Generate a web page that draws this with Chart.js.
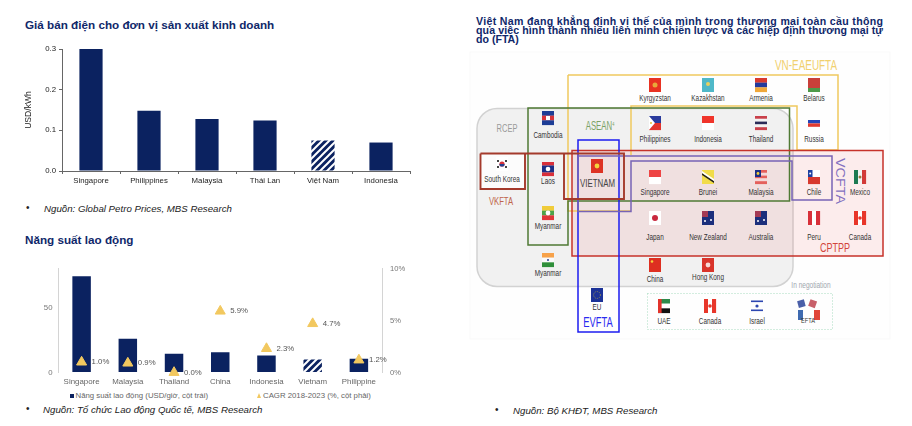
<!DOCTYPE html>
<html lang="vi">
<head>
<meta charset="utf-8">
<title>Giá bán điện và năng suất lao động</title>
<script src="https://cdn.jsdelivr.net/npm/chart.js@4"></script>
<style>
    html, body { margin: 0; padding: 0; background: #fff; }
    body { width: 912px; height: 426px; position: relative; overflow: hidden; font-family: "Liberation Sans", Arial, sans-serif; filter: blur(0.3px); }
    canvas { position: absolute; }
    svg { position: absolute; left: 0; top: 0; }
    .title { position: absolute; font-weight: bold; color: #10286a; font-size: 11.7px; white-space: nowrap; }
    .source { position: absolute; font-style: italic; color: #222; font-size: 9.7px; white-space: nowrap; }
    .bullet { position: absolute; color: #222; font-size: 10px; }
    .legend-text { position: absolute; top: 391px; font-size: 7.8px; color: #666; white-space: nowrap; }
    .legend-rect { position: absolute; left: 70px; top: 394px; width: 4px; height: 4px; background: #0b2260; }
    .legend-tri { position: absolute; left: 257px; top: 393px; width: 0; height: 0; border-left: 2.5px solid transparent; border-right: 2.5px solid transparent; border-bottom: 5px solid #f2c85f; }
</style>
</head>
<body>
<svg id="diagram" width="912" height="426" xmlns="http://www.w3.org/2000/svg"></svg>

<div class="title" style="left:25px;top:18px;">Giá bán điện cho đơn vị sản xuất kinh doanh</div>
<canvas id="priceChart" width="440" height="160" style="left:0;top:36px;"></canvas>
<div class="bullet" style="left:26px;top:202px;">•</div>
<div class="source" style="left:44px;top:203px;">Nguồn: Global Petro Prices, MBS Research</div>

<div class="title" style="left:25px;top:233px;">Năng suất lao động</div>
<canvas id="laborChart" width="440" height="131" style="left:0;top:256px;"></canvas>
<span class="legend-rect"></span><span class="legend-text" style="left:75.5px;" id="legendBar"></span>
<span class="legend-tri"></span><span class="legend-text" style="left:263px;" id="legendCagr"></span>
<div class="bullet" style="left:26px;top:403px;">•</div>
<div class="source" style="left:43px;top:404px;">Nguồn: Tổ chức Lao động Quốc tế, MBS Research</div>

<div class="bullet" style="left:495px;top:404px;">•</div>
<div class="source" style="left:513px;top:405px;">Nguồn: Bộ KHĐT, MBS Research</div>

<script>
// chart data
const priceCategories = ['Singapore', 'Philippines', 'Malaysia', 'Thái Lan', 'Việt Nam', 'Indonesia'];
const priceValues = [0.30, 0.148, 0.128, 0.124, 0.075, 0.07];
const priceTicks = [0, 0.1, 0.2, 0.3];

const laborCategories = ['Singapore', 'Malaysia', 'Thailand', 'China', 'Indonesia', 'Vietnam', 'Philippine'];
const laborValues = [74, 26, 14.5, 15.5, 13, 10, 10.5];
const cagrValues = [1.0, 0.9, 0.0, 5.9, 2.3, 4.7, 1.2];
const laborLeftTicks = [0, 50];
const laborRightTicks = [0, 5, 10];

const laborSeriesName = 'Năng suất lao động (USD/giờ, cột trái)';
const cagrSeriesName = 'CAGR 2018-2023 (%, cột phải)';

const NAVY = '#0b2260';
const YELLOW = '#f2c85f';

document.getElementById('legendBar').textContent = laborSeriesName;
document.getElementById('legendCagr').textContent = cagrSeriesName;

// diagonal stripes for the Vietnam bar
const makeHatch = () => {
    const tile = document.createElement('canvas');
    tile.width = 7;
    tile.height = 7;
    const c = tile.getContext('2d');
    c.fillStyle = NAVY;
    c.fillRect(0, 0, 7, 7);
    c.strokeStyle = '#ffffff';
    c.lineWidth = 2;
    [[-1, 1, 1, -1], [0, 7, 7, 0], [6, 8, 8, 6]].forEach(l => {
        c.beginPath();
        c.moveTo(l[0], l[1]);
        c.lineTo(l[2], l[3]);
        c.stroke();
    });
    return c.createPattern(tile, 'repeat');
};
const hatch = makeHatch();

new Chart(document.getElementById('priceChart').getContext('2d'), {
    type: 'bar',
    data: {
        labels: priceCategories,
        datasets: [{
            data: priceValues,
            backgroundColor: priceCategories.map(name => name === 'Việt Nam' ? hatch : NAVY),
            barPercentage: 0.4,
            categoryPercentage: 1
        }]
    },
    options: {
        responsive: false,
        animation: false,
        layout: { padding: { top: 13, right: 30, left: 23, bottom: 0 } },
        plugins: { legend: { display: false }, tooltip: { enabled: false } },
        scales: {
            x: {
                grid: { drawOnChartArea: false, tickLength: 3, color: '#666', offset: true },
                border: { color: '#666' },
                ticks: { color: '#222', font: { family: 'Liberation Sans', size: 7.8 }, padding: 2, maxRotation: 0 },
                afterFit: scale => { scale.height = 25; }
            },
            y: {
                min: 0,
                max: 0.3,
                afterBuildTicks: axis => { axis.ticks = priceTicks.map(v => ({ value: v })); },
                grid: { drawOnChartArea: false, tickLength: 3, color: '#666' },
                border: { color: '#666' },
                title: { display: true, text: 'USD/kWh', color: '#222', font: { family: 'Liberation Sans', size: 8.6 }, padding: 0 },
                ticks: { color: '#222', font: { family: 'Liberation Sans', size: 7.8 }, padding: 3, callback: v => v.toFixed(1) },
                afterFit: scale => { scale.width = 39; }
            }
        }
    }
});

// percentage text next to each triangle
const cagrLabels = {
    id: 'cagrLabels',
    afterDatasetsDraw(chart) {
        const ctx = chart.ctx;
        const points = chart.getDatasetMeta(1).data;
        ctx.save();
        ctx.fillStyle = '#555';
        ctx.font = '7.8px "Liberation Sans"';
        ctx.textBaseline = 'middle';
        points.forEach((pt, i) => {
            ctx.fillText(cagrValues[i].toFixed(1) + '%', pt.x + 10, pt.y);
        });
        ctx.restore();
    }
};

new Chart(document.getElementById('laborChart').getContext('2d'), {
    data: {
        labels: laborCategories,
        datasets: [
            {
                type: 'bar',
                label: laborSeriesName,
                data: laborValues,
                yAxisID: 'y',
                order: 2,
                backgroundColor: laborCategories.map(name => name === 'Vietnam' ? hatch : NAVY),
                barPercentage: 0.4,
                categoryPercentage: 1
            },
            {
                type: 'line',
                label: cagrSeriesName,
                data: cagrValues,
                yAxisID: 'y1',
                order: 1,
                showLine: false,
                clip: false,
                pointStyle: 'triangle',
                pointRadius: 5.8,
                backgroundColor: YELLOW,
                borderColor: YELLOW
            }
        ]
    },
    options: {
        responsive: false,
        animation: false,
        layout: { padding: { top: 10, right: 0, left: 0, bottom: 0 } },
        plugins: { tooltip: { enabled: false }, legend: { display: false } },
        scales: {
            x: {
                grid: { drawOnChartArea: false, drawTicks: false },
                border: { display: false },
                ticks: { color: '#666', font: { family: 'Liberation Sans', size: 7.9 }, padding: 5, maxRotation: 0 },
                afterFit: scale => { scale.height = 14.5; }
            },
            y: {
                position: 'left',
                min: 0,
                max: 80,
                afterBuildTicks: axis => { axis.ticks = laborLeftTicks.map(v => ({ value: v })); },
                grid: { drawOnChartArea: false, drawTicks: false },
                border: { color: '#d4d4d4' },
                ticks: { color: '#777', font: { family: 'Liberation Sans', size: 7.8 }, padding: 6 },
                afterFit: scale => { scale.width = 58.5; }
            },
            y1: {
                position: 'right',
                min: 0,
                max: 10,
                afterBuildTicks: axis => { axis.ticks = laborRightTicks.map(v => ({ value: v })); },
                grid: { drawOnChartArea: false, drawTicks: false },
                border: { color: '#d4d4d4' },
                ticks: { color: '#777', font: { family: 'Liberation Sans', size: 7.6 }, padding: 8, callback: v => v + '%' },
                afterFit: scale => { scale.width = 58; }
            }
        }
    },
    plugins: [cagrLabels]
});

// ---- trade agreement diagram on the right, plain svg ----
const H = (...c) => c.map((col, i) => `<rect y="${14 * i / c.length}" width="12" height="${14 / c.length + 0.1}" fill="${col}"/>`).join('');
const V = (...c) => c.map((col, i) => `<rect x="${12 * i / c.length}" width="${12 / c.length + 0.1}" height="14" fill="${col}"/>`).join('');
const dot = (x, y, r, col) => `<circle cx="${x}" cy="${y}" r="${r}" fill="${col}"/>`;
const box = (x, y, w, h, col) => `<rect x="${x}" y="${y}" width="${w}" height="${h}" fill="${col}"/>`;
const AUS = box(0, 0, 12, 14, '#1b2f7c') + box(0, 0, 6, 6, '#a33a55') + dot(9, 9, 1, '#fff') + dot(3, 10, 1, '#fff');
const CAN = V('#e8362a', '#fff', '#e8362a') + dot(6, 7, 1.8, '#e8362a');

const flags = {
    kg: box(0, 0, 12, 14, '#e83222') + dot(6, 7, 2.5, '#e8a93a'),
    kz: box(0, 0, 12, 14, '#4fb8c8') + dot(6, 6, 2, '#e8d060'),
    am: H('#d93a2e', '#233a9c', '#f0a83a'),
    by: box(0, 0, 12, 10, '#c9403a') + box(0, 10, 12, 4, '#4d9a4a'),
    ph: H('#2a3b9c', '#e2332b') + '<path d="M0,0 L6,7 L0,14 Z" fill="#fff"/>' + dot(2, 7, 1, '#e9c13a'),
    id: H('#f0342a', '#ffffff'),
    th: H('#c9404a', '#f3f3f3', '#2b2c58', '#f3f3f3', '#c9404a'),
    ru: box(0, 4, 12, 3.4, '#2444b8') + box(0, 7.4, 12, 3.4, '#e03a30'),
    kh: H('#1d3d96', '#d8343a', '#1d3d96') + box(4, 5, 4, 4, '#fff'),
    kr: box(0, 0, 12, 14, '#fff') + dot(6, 7, 2.6, '#d6313a') + '<path d="M3.4,7 a2.6,2.6 0 0 0 5.2,0 Z" fill="#24418f"/>' + box(1, 3, 2, 2, '#444') + box(9, 3, 2, 2, '#444') + box(1, 9, 2, 2, '#444') + box(9, 9, 2, 2, '#444'),
    la: H('#d9303a', '#1c2f86', '#1c2f86', '#d9303a') + dot(6, 7, 2.3, '#fff'),
    vn: box(0, 0, 12, 14, '#dd3224') + dot(6, 7, 2.4, '#f4d33c'),
    sg: H('#ee4444', '#ffffff'),
    bn: box(0, 0, 12, 14, '#f1dc4a') + '<path d="M0,3 L12,11 L12,13 L0,5 Z" fill="#222"/><path d="M0,1 L12,9 L12,11 L0,3 Z" fill="#fff"/>',
    my: H('#e4605c', '#f4d8d8', '#e4605c', '#f4d8d8', '#e4605c') + box(0, 0, 6, 7, '#1c2f86') + dot(3, 3.5, 1.4, '#f0cf3a'),
    cl: H('#ffffff', '#d8392e') + box(0, 0, 4.5, 7, '#1d3fa0') + dot(2.2, 3.5, 1, '#fff'),
    mx: V('#1d7a52', '#f3f3f3', '#d23a38') + dot(6, 7, 1.5, '#99763a'),
    jp: box(0, 0, 12, 14, '#fff') + dot(6, 7, 3, '#c9283e'),
    nz: AUS,
    au: AUS,
    pe: V('#d8303a', '#fff', '#d8303a'),
    ca: CAN,
    mm: H('#f0cc3a', '#4da24a', '#e0353a') + dot(6, 7, 2.4, '#fff'),
    in: H('#f7a24a', '#fafafa', '#2f8f3a') + dot(6, 7, 1, '#2b3f95'),
    cn: box(0, 0, 12, 14, '#de2f20') + dot(3, 3.5, 1.3, '#f4d33c'),
    hk: box(0, 0, 12, 14, '#d9342a') + dot(6, 7, 2.4, '#f7d9d5'),
    eu: box(0, 0, 12, 14, '#1c3398') + '<circle cx="6" cy="7" r="3.4" fill="none" stroke="#c9b83a" stroke-width="0.7" stroke-dasharray="1 1.2"/>',
    ae: H('#2c8a4a', '#ffffff', '#111111') + box(0, 0, 3.6, 14, '#e2332b'),
    il: box(0, 1.5, 12, 1.6, '#2c46b0') + box(0, 10.5, 12, 1.6, '#2c46b0') + dot(6, 7, 1.6, '#2c46b0')
};

// name, flag key, centre x, flag top, label baseline
const countries = [
    ['Kyrgyzstan', 'kg', 655, 78, 101], ['Kazakhstan', 'kz', 708, 78, 101], ['Armenia', 'am', 761, 78, 101], ['Belarus', 'by', 814, 78, 101],
    ['Philippines', 'ph', 655, 116, 142], ['Indonesia', 'id', 708, 116, 142], ['Thailand', 'th', 761, 116, 142], ['Russia', 'ru', 814, 116, 142],
    ['Cambodia', 'kh', 548, 111, 138],
    ['South Korea', 'kr', 502, 157, 182], ['Laos', 'la', 548, 162, 184],
    ['Singapore', 'sg', 655, 170, 195], ['Brunei', 'bn', 708, 170, 195], ['Malaysia', 'my', 761, 170, 195], ['Chile', 'cl', 814, 170, 195], ['Mexico', 'mx', 860, 170, 195],
    ['Japan', 'jp', 655, 211, 240], ['New Zealand', 'nz', 708, 211, 240], ['Australia', 'au', 761, 211, 240], ['Peru', 'pe', 814, 211, 240], ['Canada', 'ca', 860, 211, 240],
    ['Myanmar', 'mm', 548, 206, 229], ['Myanmar', 'in', 548, 253, 276],
    ['China', 'cn', 655, 258, 282], ['Hong Kong', 'hk', 708, 258, 280],
    ['EU', 'eu', 597, 288, 310],
    ['UAE', 'ae', 664, 299, 324], ['Canada', 'ca', 710, 299, 324], ['Israel', 'il', 757, 299, 324]
];

// the diagram lettering is a condensed face, so squeeze Liberation Sans sideways
const label = (text, x, y, size, col, sx = 0.72) =>
    `<text transform="translate(${x},${y}) scale(${sx},1)" font-family="Liberation Sans" font-size="${size}" fill="${col}" text-anchor="middle">${text}</text>`;
const outline = (d, col, w = 1.5) => `<path d="${d}" fill="none" stroke="${col}" stroke-width="${w}"/>`;

let svg = '';
// article heading, stretched to the column like the justified original
svg += `<g font-family="Liberation Sans" font-weight="bold" font-size="10.6" fill="#10286a">
    <text x="476" y="25" textLength="407" lengthAdjust="spacing">Việt Nam đang khẳng định vị thế của mình trong thương mại toàn cầu thông</text>
    <text x="476" y="34" textLength="407" lengthAdjust="spacing">qua việc hình thành nhiều liên minh chiến lược và các hiệp định thương mại tự</text>
    <text x="476" y="43">do (FTA)</text></g>`;

svg += '<rect x="470" y="52" width="420" height="287" fill="#fefefe" stroke="#f9f9f9"/>';
svg += '<rect x="477" y="108.5" width="316" height="178" rx="20" fill="#f1f1f1" stroke="#d2d2d2" stroke-width="1.5"/>';
svg += '<rect x="572" y="150.5" width="311" height="105.5" fill="#f04a4a" fill-opacity="0.1"/>';
svg += '<rect x="480.5" y="153.5" width="44" height="35.5" fill="#fff" fill-opacity="0.75"/>';
svg += outline('M568,75 H838 V150 H797 V106 H631 V155 M568,75 V211 H631', '#efc95f');
svg += outline('M528,108 H789.5 V201 H568 V245 H528 Z', '#4f7a34');
svg += outline('M572,150.5 H883 V256 H572 Z', '#c6322a');
svg += outline('M578,140 H619 V332 H578 Z', '#1c1cf0');
svg += outline('M578,156 H832 V200 H792 V161 H631 V211.5 H578 Z', '#7763b5');
svg += outline('M480.5,153.5 H624 V199 H564 V153.5 M525,153.5 V189 H480.5 V153.5', '#a43a2c', 1.9);
svg += '<rect x="647.5" y="293.5" width="185" height="36" fill="none" stroke="#a9dcc0" stroke-dasharray="1 2"/>';

countries.forEach(([name, key, cx, top, base]) => {
    svg += `<g transform="translate(${cx - 6},${top})">${flags[key]}</g>`;
    svg += label(name, cx, base, 8.4, '#333', 0.76);
});
svg += `<g transform="translate(591,159)">${flags.vn}</g>`;
svg += label('VIETNAM', 597.5, 187, 11.6, '#444', 0.68);

// EFTA cluster
svg += `<g transform="translate(798,300)"><rect x="0" y="0" width="7" height="7" fill="#4a5fa8" transform="rotate(-15 4 4)"/><rect x="11" y="0" width="7" height="7" fill="#c8606a" transform="rotate(20 14 4)"/><rect x="0" y="10" width="5" height="10" fill="#3e6ab0"/><rect x="16" y="10" width="6" height="10" fill="#e0453a"/></g>`;
svg += label('EFTA', 808, 323, 7, '#333', 0.8);

svg += label('RCEP', 507, 132, 11, '#9a9a9a', 0.68);
svg += label('ASEAN<tspan font-size="6" dy="-4">4</tspan>', 600, 130, 12, '#7aa266', 0.65);
svg += label('VKFTA', 501, 205, 11.5, '#c0654c', 0.67);
svg += label('VN-EAEUFTA', 806, 70, 13.8, '#f1d06e');
svg += label('EVFTA', 598, 327, 14, '#2a2af0', 0.67);
svg += label('CPTPP', 835, 252, 13.5, '#d2443c', 0.67);
svg += `<text transform="translate(836,181) rotate(90) scale(1.2,1)" font-family="Liberation Sans" font-size="12" fill="#8370c0" text-anchor="middle">VCFTA</text>`;
svg += label('In negotiation', 811, 288, 8.2, '#a0a6ae', 0.8);

document.getElementById('diagram').innerHTML = svg;
</script>
</body>
</html>
